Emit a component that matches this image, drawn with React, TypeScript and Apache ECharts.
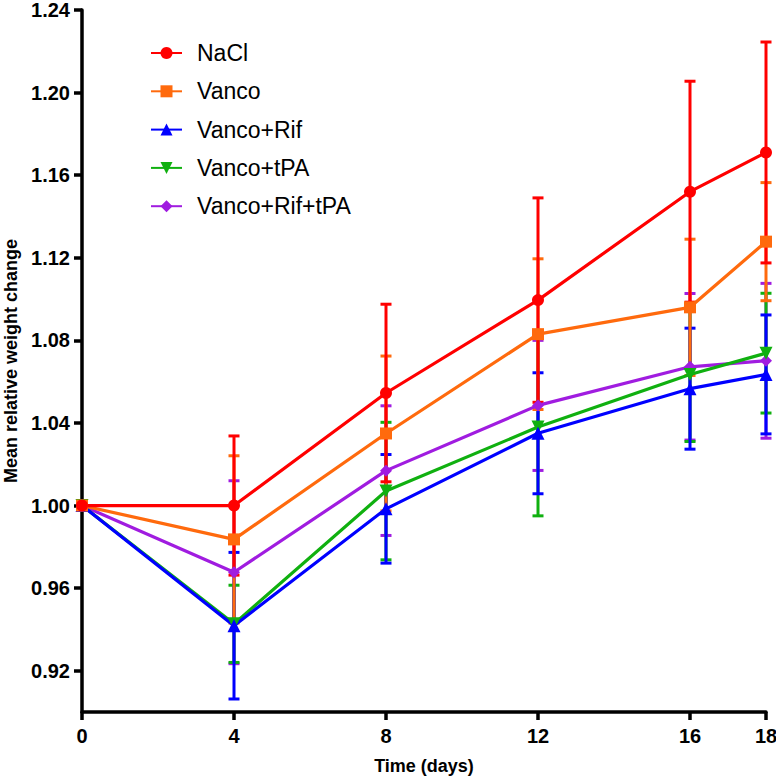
import React, { useEffect, useRef } from "react";
import * as echarts from "echarts";

const FONT = "'Liberation Sans', Arial, Helvetica, sans-serif";

const days = [0, 4, 8, 12, 16, 18];
const xTicks = [0, 4, 8, 12, 16, 18];
const yTicks = [0.92, 0.96, 1.0, 1.04, 1.08, 1.12, 1.16, 1.2, 1.24];

const naclMean = [1.0, 1.0, 1.0545, 1.0995, 1.152, 1.171];
const naclErr = [0, 0.0337, 0.043, 0.0495, 0.0535, 0.0535];
const vancoMean = [1.0, 0.9836, 1.0349, 1.083, 1.096, 1.1278];
const vancoErr = [0, 0.0405, 0.0375, 0.0365, 0.033, 0.0286];
const vancoRifMean = [1.0, 0.9418, 0.9984, 1.035, 1.0566, 1.0635];
const vancoRifErr = [0, 0.0355, 0.0263, 0.0293, 0.0293, 0.0288];
const vancoTpaMean = [1.0, 0.9427, 1.007, 1.038, 1.0635, 1.0738];
const vancoTpaErr = [0, 0.0187, 0.0333, 0.043, 0.0325, 0.029];
const vancoRifTpaMean = [1.0, 0.9677, 1.0169, 1.0485, 1.0672, 1.0701];
const vancoRifTpaErr = [0, 0.0443, 0.0314, 0.0315, 0.0355, 0.0375];

const groups = [
  { name: "NaCl", mean: naclMean, err: naclErr, color: "#FF0000", symbol: "circle", size: 12, rotate: 0 },
  { name: "Vanco", mean: vancoMean, err: vancoErr, color: "#FF6A0D", symbol: "rect", size: 12, rotate: 0 },
  { name: "Vanco+Rif", mean: vancoRifMean, err: vancoRifErr, color: "#0000FF", symbol: "triangle", size: 13, rotate: 0 },
  { name: "Vanco+tPA", mean: vancoTpaMean, err: vancoTpaErr, color: "#10B010", symbol: "triangle", size: 13, rotate: 180 },
  { name: "Vanco+Rif+tPA", mean: vancoRifTpaMean, err: vancoRifTpaErr, color: "#A01CE0", symbol: "diamond", size: 12, rotate: 0 },
];

export default function App() {
  const ref = useRef<HTMLDivElement>(null);
  useEffect(() => {
    if (!ref.current) return;
    const chart = echarts.init(ref.current, undefined, { renderer: "svg" });
    const series: any[] = [];
    [...groups].reverse().forEach((g) => {
      const color = g.color;
      series.push({
        type: "custom",
        name: g.name + " SD",
        data: days.map((d, i) => [d, g.mean[i] - g.err[i], g.mean[i] + g.err[i]]),
        encode: { x: 0, y: [1, 2] },
        renderItem: (params: any, api: any) => {
          const x = api.value(0);
          const lo = api.value(1);
          const hi = api.value(2);
          if (hi - lo <= 0.0001) return { type: "group", children: [] };
          const pLo = api.coord([x, lo]);
          const pHi = api.coord([x, hi]);
          const w = 5.5;
          const style = { stroke: color, lineWidth: 3 };
          return {
            type: "group",
            children: [
              { type: "line", shape: { x1: pLo[0], y1: pLo[1], x2: pHi[0], y2: pHi[1] }, style },
              { type: "line", shape: { x1: pHi[0] - w, y1: pHi[1], x2: pHi[0] + w, y2: pHi[1] }, style },
              { type: "line", shape: { x1: pLo[0] - w, y1: pLo[1], x2: pLo[0] + w, y2: pLo[1] }, style },
            ],
          };
        },
        silent: true,
      });
      series.push({
        type: "line",
        name: g.name,
        data: days.map((d, i) => [d, g.mean[i]]),
        symbol: g.symbol,
        symbolSize: g.size,
        symbolRotate: g.rotate,
        showAllSymbol: true,
        lineStyle: { color, width: 3.2 },
        itemStyle: { color, borderWidth: 0 },
        silent: true,
      });
    });

    const axisLabelStyle = { fontFamily: FONT, fontWeight: "bold", fontSize: 20, color: "#000" };

    chart.setOption({
      animation: false,
      backgroundColor: "#fff",
      grid: { left: 82, right: 10, top: 10, bottom: 68, outerBoundsMode: "none", containLabel: false },
      legend: {
        orient: "vertical",
        left: 150,
        top: 41,
        padding: 0,
        itemWidth: 31,
        itemHeight: 15,
        itemGap: 14.3,
        data: groups.map((g) => g.name),
        textStyle: { fontFamily: FONT, fontSize: 23, color: "#000", padding: [0, 0, 0, 10], lineHeight: 24 },
        selectedMode: false,
      },
      xAxis: {
        type: "value",
        min: 0,
        max: 18,
        name: "Time (days)",
        nameLocation: "middle",
        nameGap: 45,
        nameTextStyle: { fontFamily: FONT, fontWeight: "bold", fontSize: 18, color: "#000" },
        axisLine: { lineStyle: { color: "#000", width: 3.5 } },
        axisTick: { show: true, length: 8, lineStyle: { color: "#000", width: 3.5 }, customValues: xTicks },
        axisLabel: { ...axisLabelStyle, margin: 14, customValues: xTicks },
        splitLine: { show: false },
      },
      yAxis: {
        type: "value",
        min: 0.9,
        max: 1.24,
        name: "Mean relative weight change",
        nameLocation: "middle",
        nameRotate: 90,
        nameGap: 61,
        nameTextStyle: { fontFamily: FONT, fontWeight: "bold", fontSize: 18, color: "#000" },
        axisLine: { show: true, lineStyle: { color: "#000", width: 3.5 } },
        axisTick: { show: true, length: 8, lineStyle: { color: "#000", width: 3.5 }, customValues: yTicks },
        axisLabel: {
          ...axisLabelStyle,
          margin: 12,
          customValues: yTicks,
          formatter: (v: number) => v.toFixed(2),
        },
        splitLine: { show: false },
      },
      series,
    });
    return () => chart.dispose();
  }, []);
  return (
    <div
      ref={ref}
      style={{ position: "fixed", left: 0, top: 0, width: 776, height: 780, background: "#fff" }}
    />
  );
}
